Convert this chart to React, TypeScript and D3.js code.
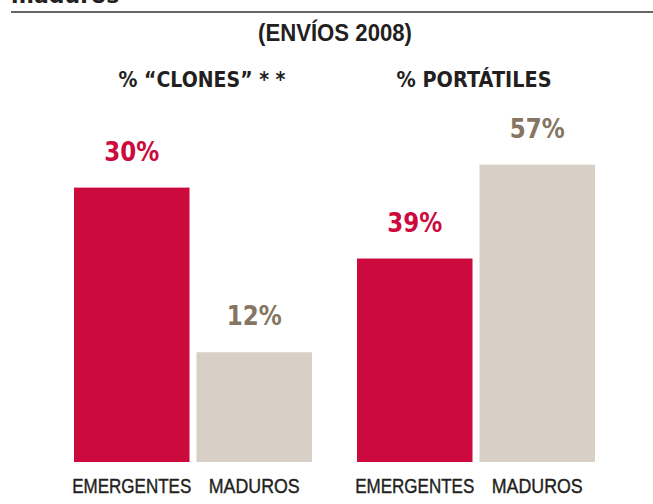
import { useEffect, useRef } from 'react'
import * as d3 from 'd3'

const panels = ['% “CLONES”  * *', '% PORTÁTILES']
const categories = ['EMERGENTES', 'MADUROS']
const clones = [30, 12]
const portatiles = [39, 57]
const subtitle = '(ENVÍOS 2008)'
const cutTitle = 'maduros'

const RED = '#cc0a3e'
const BEIGE = '#d8cfc6'
const BEIGE_TEXT = '#857562'
const INK = '#231f20'
const WIDE = "'DejaVu Sans', Verdana, sans-serif"
const NARROW = "'Liberation Sans Narrow', 'Liberation Sans', Arial, sans-serif"

export default function App() {
  const ref = useRef<SVGSVGElement | null>(null)

  useEffect(() => {
    const width = 653,
      height = 504
    const baseline = 462

    const svg = d3.select(ref.current)
    svg.selectAll('*').remove()
    svg.attr('width', width).attr('height', height)

    // heading cut off at the top, as in the source page
    svg
      .append('text')
      .attr('x', 11)
      .attr('y', 3)
      .attr('font-family', WIDE)
      .attr('font-weight', 'bold')
      .attr('font-size', 22)
      .attr('fill', INK)
      .text(cutTitle)
    svg
      .append('line')
      .attr('x1', 11)
      .attr('x2', width)
      .attr('y1', 12)
      .attr('y2', 12)
      .attr('stroke', '#333')
      .attr('stroke-width', 1.5)

    svg
      .append('text')
      .attr('x', 335)
      .attr('y', 41)
      .attr('text-anchor', 'middle')
      .attr('font-family', NARROW)
      .attr('font-weight', 'bold')
      .attr('font-size', 23)
      .attr('fill', INK)
      .attr('textLength', 154)
      .attr('lengthAdjust', 'spacingAndGlyphs')
      .text(subtitle)

    const outer = d3.scaleBand().domain(panels).range([74, 595]).paddingInner(0.159)
    const inner = d3
      .scaleBand()
      .domain(categories)
      .range([0, outer.bandwidth()])
      .paddingInner(0.057)

    const series = [clones, portatiles]
    const domains = [32.8, 57.5]
    const titleDx = [9, -2]
    const titleLen = [167, 155]

    panels.forEach((p, i) => {
      const y = d3.scaleLinear().domain([0, domains[i]]).range([baseline, 162])
      const g = svg.append('g').attr('transform', 'translate(' + outer(p) + ',0)')

      g.append('text')
        .attr('x', outer.bandwidth() / 2 + titleDx[i])
        .attr('y', 87)
        .attr('text-anchor', 'middle')
        .attr('font-family', WIDE)
        .attr('font-weight', 'bold')
        .attr('font-size', 21)
        .attr('fill', INK)
        .attr('textLength', titleLen[i])
        .attr('lengthAdjust', 'spacingAndGlyphs')
        .text(p)

      const data = categories.map((c, j) => ({ c, v: series[i][j] }))

      g.selectAll('rect')
        .data(data)
        .enter()
        .append('rect')
        .attr('x', (d) => inner(d.c)!)
        .attr('width', inner.bandwidth())
        .attr('y', (d) => y(d.v))
        .attr('height', (d) => baseline - y(d.v))
        .attr('fill', (d, j) => (j === 0 ? RED : BEIGE))

      g.selectAll('.val')
        .data(data)
        .enter()
        .append('text')
        .attr('class', 'val')
        .attr('x', (d) => inner(d.c)! + inner.bandwidth() / 2)
        .attr('y', (d) => y(d.v) - 27)
        .attr('text-anchor', 'middle')
        .attr('font-family', WIDE)
        .attr('font-weight', 'bold')
        .attr('font-size', 26)
        .attr('fill', (d, j) => (j === 0 ? RED : BEIGE_TEXT))
        .attr('textLength', 55)
        .attr('lengthAdjust', 'spacingAndGlyphs')
        .text((d) => d.v + '%')

      g.selectAll('.cat')
        .data(data)
        .enter()
        .append('text')
        .attr('class', 'cat')
        .attr('x', (d) => inner(d.c)! + inner.bandwidth() / 2)
        .attr('y', 493)
        .attr('text-anchor', 'middle')
        .attr('font-family', NARROW)
        .attr('font-size', 20)
        .attr('fill', INK)
        .attr('stroke', INK)
        .attr('stroke-width', 0.4)
        .attr('textLength', (d, j) => (j === 0 ? 119 : 91))
        .attr('lengthAdjust', 'spacingAndGlyphs')
        .text((d) => d.c)
    })
  }, [])

  return (
    <svg
      ref={ref}
      style={{ position: 'absolute', left: 0, top: 0, background: '#fff' }}
    />
  )
}
